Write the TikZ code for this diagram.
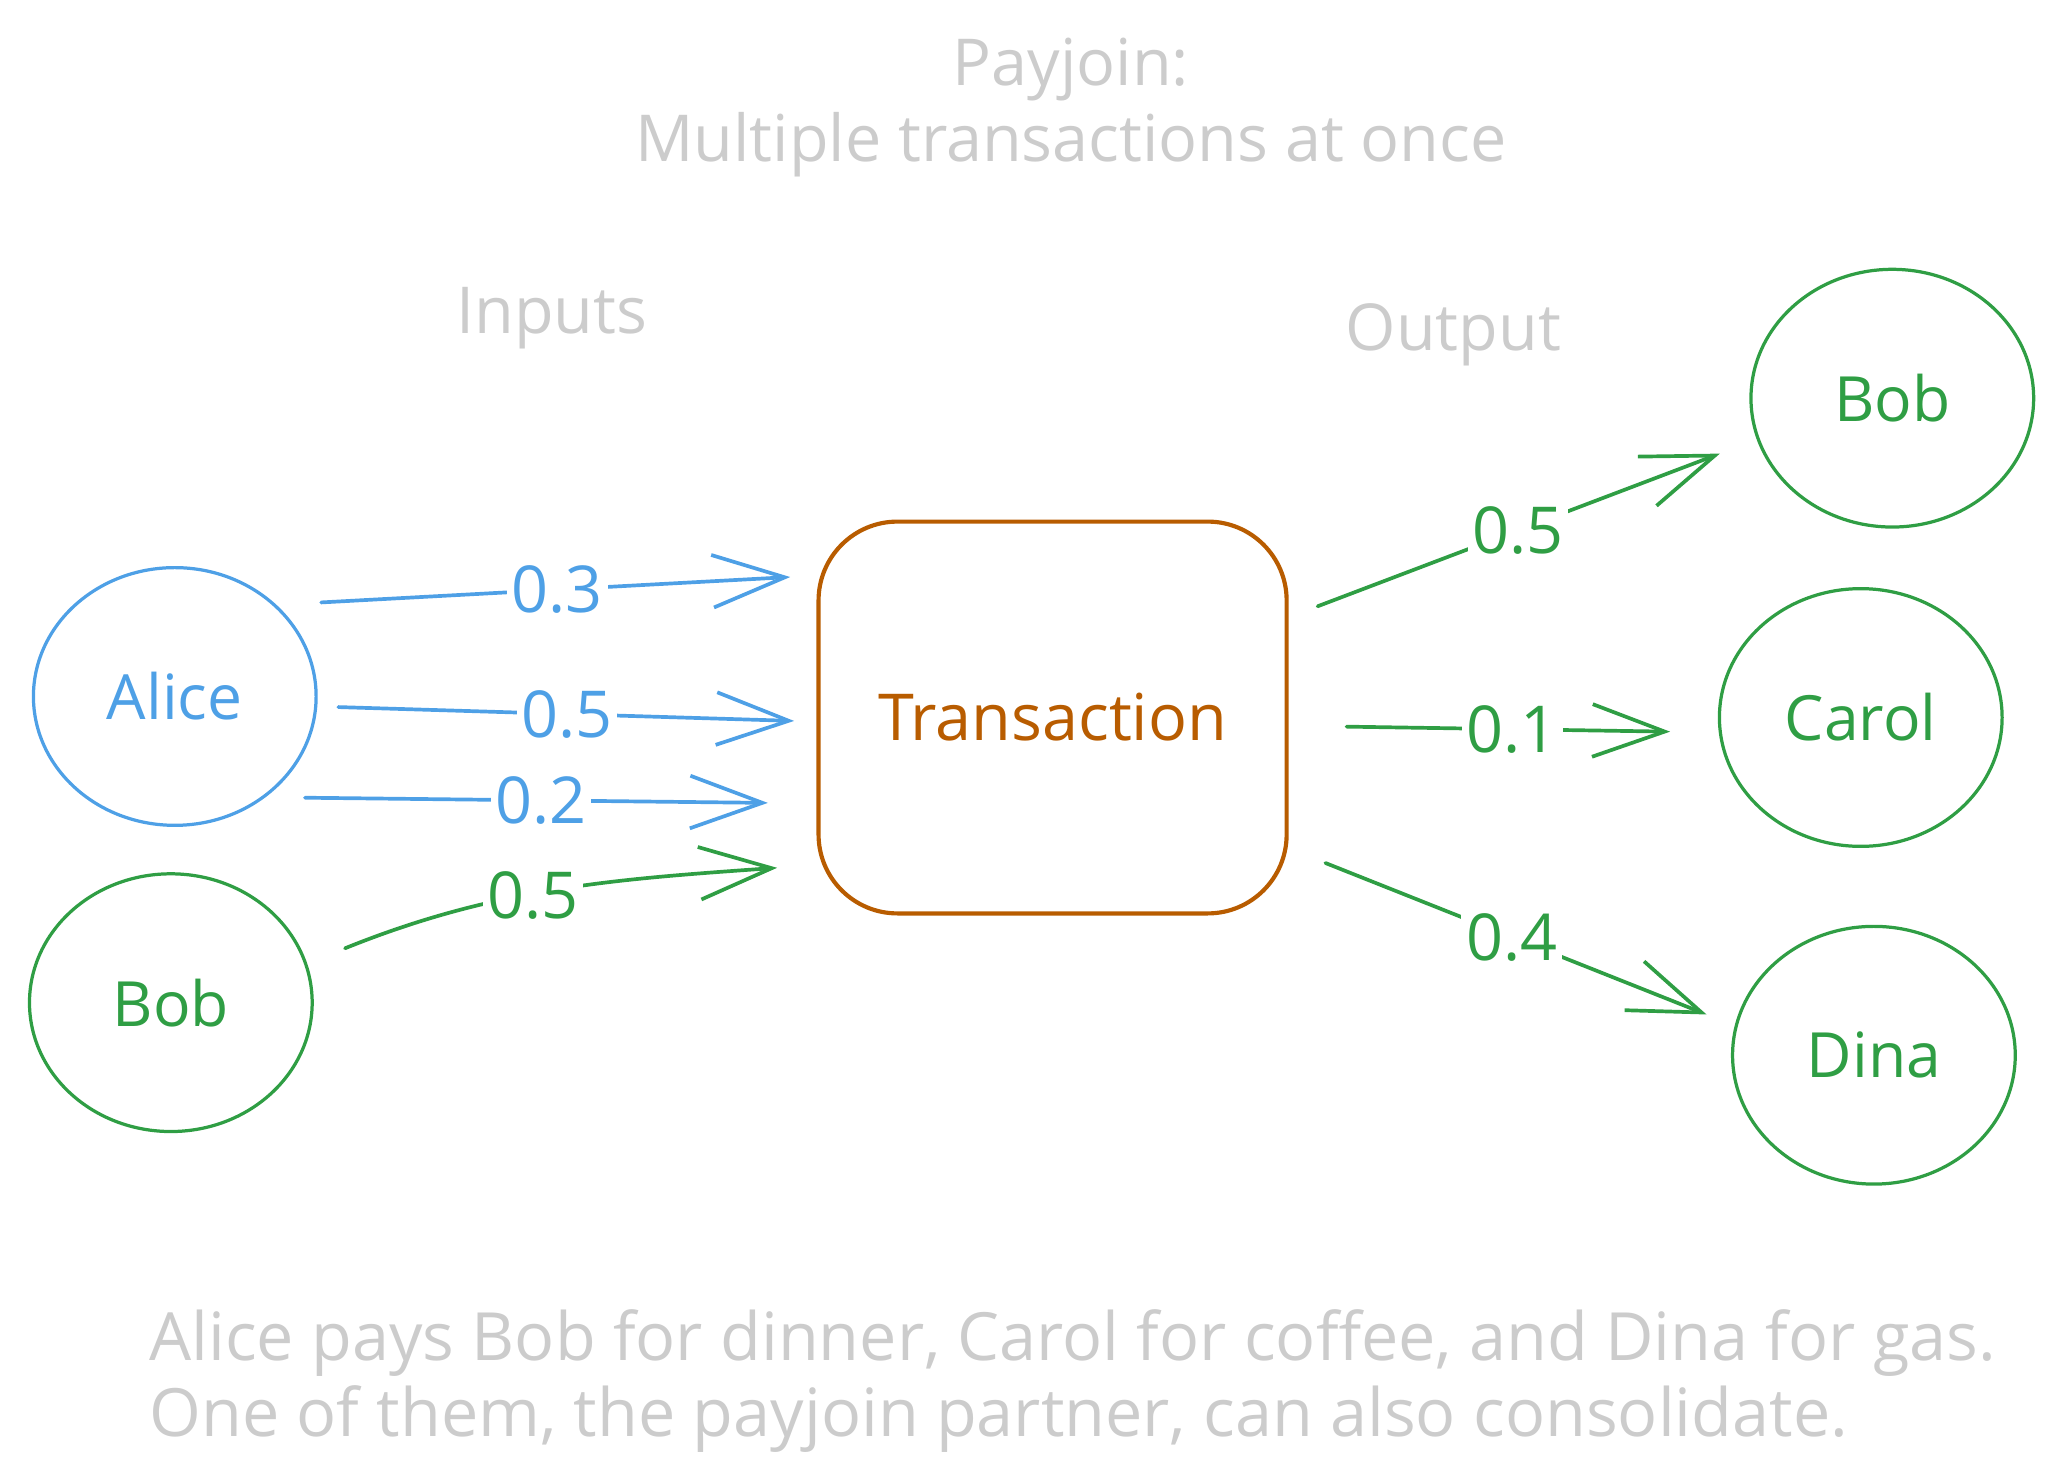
\documentclass[tikz,border=0pt]{standalone}
\usepackage{fontspec}
\setmainfont{Open Sans}
\usetikzlibrary{arrows.meta,shapes.geometric}

\begin{document}
\begin{tikzpicture}[x=0.01cm, y=0.01cm,
    person/.style={ellipse, draw, line width=0.7pt, inner sep=0pt, minimum width=2.15cm, minimum height=1.96cm, font=\fontsize{13.5}{16}\selectfont},
    txbox/.style={draw=txorange, text=txorange, line width=0.9pt, rounded corners=0.6cm, minimum width=3.56cm, minimum height=2.98cm, font=\fontsize{14}{17}\selectfont},
    flow/.style={line width=0.8pt, line cap=round, -{Straight Barb[length=5.5mm, width=4mm]}},
    amount/.style={fill=white, inner sep=1pt, font=\fontsize{14}{17}\selectfont},
    note/.style={text=notegray, font=\fontsize{14}{16.5}\selectfont},
  ]

    % Colors
    \definecolor{inblue}{HTML}{4EA0E6}
    \definecolor{outgreen}{HTML}{2F9E44}
    \definecolor{txorange}{HTML}{B85C00}
    \definecolor{notegray}{HTML}{CCCCCC}

    \useasboundingbox (0,0) rectangle (1560,-1127);

    %draw the headings
    \node[note, align=center] (title) at (815,-82) {Payjoin:\\Multiple transactions at once};
    \node[note] (inputs) at (420,-242) {Inputs};
    \node[note] (output) at (1106,-255) {Output};

    %draw the parties
    \node[person, draw=inblue, text=inblue] (alice) at (133,-530) {Alice};
    \node[person, draw=outgreen, text=outgreen] (bobin) at (130,-763) {Bob};
    \node[person, draw=outgreen, text=outgreen] (bobout) at (1440,-303) {Bob};
    \node[person, draw=outgreen, text=outgreen] (carol) at (1416,-546) {Carol};
    \node[person, draw=outgreen, text=outgreen] (dina) at (1426,-803) {Dina};

    %draw the transaction
    \node[txbox] (trans) at (801,-546) {Transaction};

    %inputs into the transaction
    \draw[flow, inblue, shorten <=0.34cm, shorten >=0.2cm] (alice.42) -- node[amount, pos=0.52] {0.3} (trans.149);
    \draw[flow, inblue, shorten <=0.16cm, shorten >=0.17cm] (alice.-4) -- node[amount, pos=0.5] {0.5} (trans.181);
    \draw[flow, inblue, shorten <=0.3cm, shorten >=0.37cm] (alice.-48) -- node[amount, pos=0.5] {0.2} (trans.200);
    \draw[flow, outgreen, shorten <=0.31cm, shorten >=0.3cm] (bobin.16) to[out=22, in=184] node[amount, pos=0.45] {0.5} (trans.212);

    %outputs of the transaction
    \draw[flow, outgreen, shorten <=0.235cm, shorten >=0.3cm] (trans.23) -- node[amount, pos=0.49] {0.5} (bobout.197);
    \draw[flow, outgreen, shorten <=0.44cm, shorten >=0.37cm] (trans.-2) -- node[amount, pos=0.52] {0.1} (carol.186);
    \draw[flow, outgreen, shorten <=0.3cm, shorten >=0.23cm] (trans.-29) -- node[amount, pos=0.5] {0.4} (dina.168);

    %the explanation
    \node[note, anchor=west, align=left, inner sep=0pt, font=\fontsize{14.4}{16.5}\selectfont] (story) at (113,-1051) {Alice pays Bob for dinner, Carol for coffee, and Dina for gas.\\One of them, the payjoin partner, can also consolidate.};

\end{tikzpicture}
\end{document}
